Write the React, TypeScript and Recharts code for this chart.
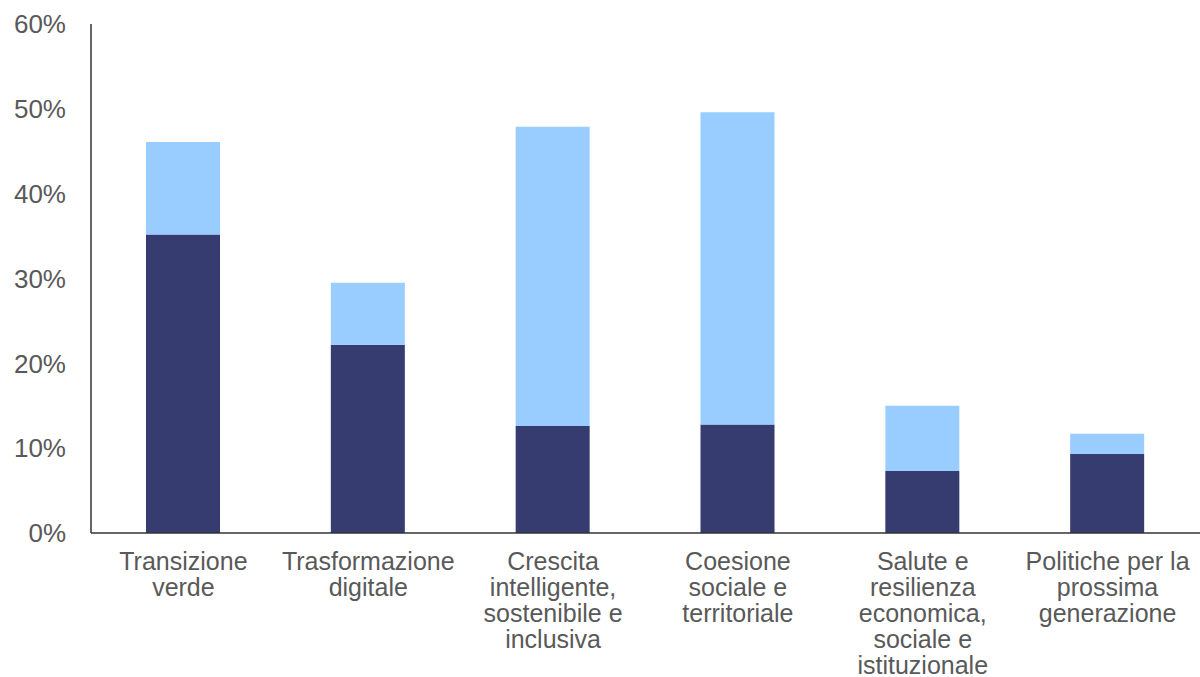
import React from "react";
import { BarChart, Bar, XAxis, YAxis } from "recharts";

const categories = [
  "Transizione verde",
  "Trasformazione digitale",
  "Crescita intelligente, sostenibile e inclusiva",
  "Coesione sociale e territoriale",
  "Salute e resilienza economica, sociale e istituzionale",
  "Politiche per la prossima generazione",
];

const tickLabels: string[][] = [
  ["Transizione", "verde"],
  ["Trasformazione", "digitale"],
  ["Crescita", "intelligente,", "sostenibile e", "inclusiva"],
  ["Coesione", "sociale e", "territoriale"],
  ["Salute e", "resilienza", "economica,", "sociale e", "istituzionale"],
  ["Politiche per la", "prossima", "generazione"],
];

const darkValues = [35.2, 22.2, 12.6, 12.8, 7.3, 9.3];
const lightValues = [10.9, 7.3, 35.3, 36.8, 7.7, 2.4];

const yTicks = [0, 10, 20, 30, 40, 50, 60];

const data = categories.map((c, i) => ({
  name: c,
  idx: i,
  dark: darkValues[i],
  light: lightValues[i],
}));

const FONT = "'Liberation Sans', Arial, sans-serif";
const TEXT = "#595959";

const XTick = (props: any) => {
  const { x, y, index } = props;
  const lines = tickLabels[index] || [];
  return (
    <text
      x={x}
      y={y}
      textAnchor="middle"
      fill={TEXT}
      fontSize={25}
      fontFamily={FONT}
    >
      {lines.map((l, k) => (
        <tspan key={k} x={x} y={y + 37 + k * 26}>
          {l}
        </tspan>
      ))}
    </text>
  );
};

export default function App() {
  return (
    <div style={{ position: "absolute", left: 0, top: 0, background: "#fff" }}>
      <BarChart
        width={1200}
        height={677}
        data={data}
        margin={{ top: 24, right: 0, left: 0, bottom: 0 }}
        barSize={74}
      >
        <XAxis
          dataKey="name"
          height={144}
          interval={0}
          tickLine={false}
          tickSize={0}
          tickMargin={0}
          axisLine={{ stroke: "#333333", strokeWidth: 1.5 }}
          tick={<XTick />}
        />
        <YAxis
          width={91}
          domain={[0, 60]}
          ticks={yTicks}
          interval={0}
          tickLine={false}
          tickSize={0}
          tickMargin={25}
          axisLine={{ stroke: "#333333", strokeWidth: 1.5 }}
          tickFormatter={(v: number) => `${v}%`}
          tick={{ fill: TEXT, fontSize: 26, fontFamily: FONT }}
        />
        <Bar dataKey="dark" stackId="a" fill="#363B70" isAnimationActive={false} />
        <Bar dataKey="light" stackId="a" fill="#99CCFF" isAnimationActive={false} />
      </BarChart>
    </div>
  );
}
